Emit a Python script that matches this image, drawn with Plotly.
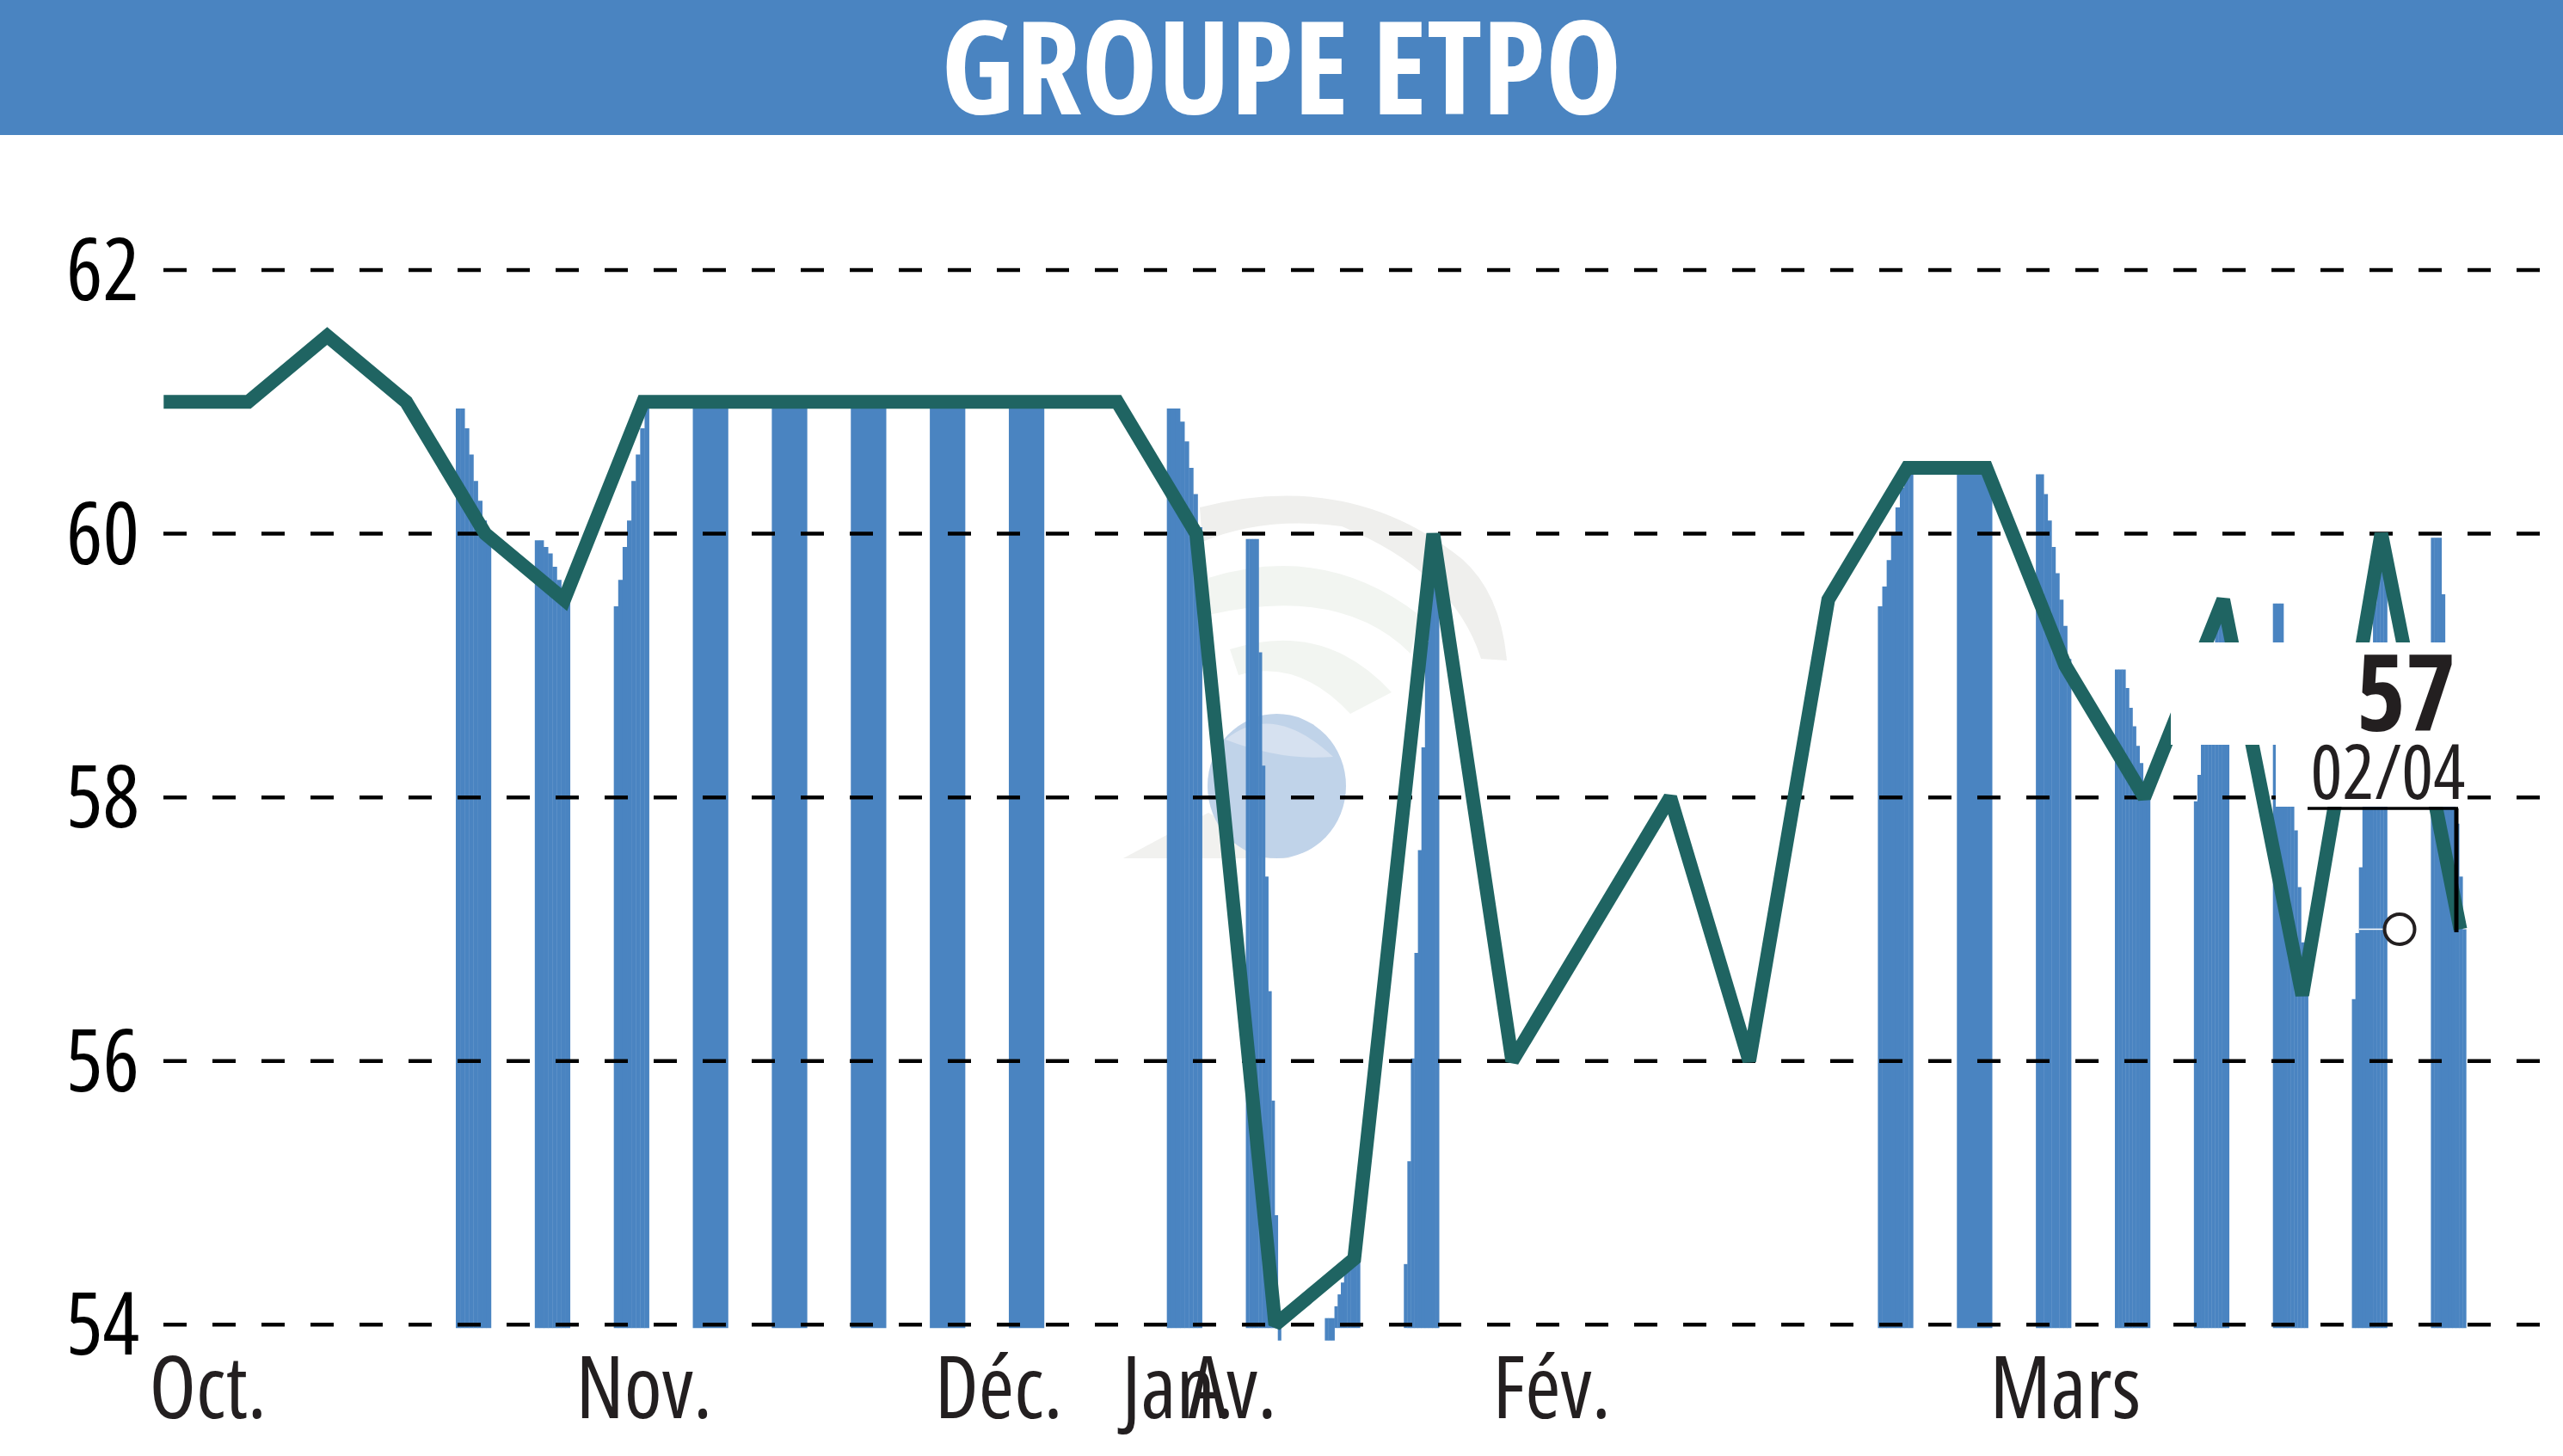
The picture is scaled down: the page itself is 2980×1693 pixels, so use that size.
import plotly.graph_objects as go

W, H = 2980, 1693
FONT = "Open Sans"
BLUE = "#4a84c1"
GREEN = "#1f6462"
INK = "#231f20"

# closing price, one point per period
line_idx = [-0.07, 1, 2, 3, 4, 5, 6, 7, 8, 9, 10, 11, 12, 13, 14, 15, 16, 17, 18, 19, 20, 21, 22, 23, 24, 25, 26, 27, 28, 29]
line_val = [61, 61, 61.5, 61, 60, 59.5, 61, 61, 61, 61, 61, 61, 61, 60, 54, 54.5, 60, 56, 57, 58, 56, 59.5, 60.5, 60.5, 59, 58, 59.5, 56.5, 60, 57]

y_ticks = [54, 56, 58, 60, 62]
x_tick_idx = [0.49, 6.01, 10.5, 12.77, 13.46, 17.5, 24.0]
x_tick_text = ["Oct.", "Nov.", "Déc.", "Jan.", "Av.", "Fév.", "Mars"]

# stripes under the line: which period, then the stepped top
stripe_idx = [4, 5, 6, 7, 8, 9, 10, 11, 13, 14, 15, 16, 22, 23, 24, 25, 26, 27, 28, 29]
stripe_tops = [
    [60.95, 60.95, 60.8, 60.6, 60.4, 60.25, 60.1, 60.0],
    [59.95, 59.95, 59.9, 59.85, 59.75, 59.65, 59.55, 59.5],
    [59.45, 59.65, 59.9, 60.1, 60.4, 60.6, 60.8, 60.95],
    [60.95],
    [60.95],
    [60.95],
    [60.95],
    [60.95],
    [60.95, 60.95, 60.95, 60.85, 60.7, 60.5, 60.3, 60.05],
    [59.96, 59.96, 59.96, 59.96, 59.1, 58.24, 57.4, 56.53, 55.7, 54.83, 54.0],
    [54.05, 54.05, 54.05, 54.14, 54.23, 54.32, 54.5, 54.5, 54.5, 54.5, 54.5],
    [54.46, 55.24, 56.02, 56.82, 57.6, 58.38, 59.18, 59.96, 59.96, 59.96],
    [59.45, 59.6, 59.8, 60.0, 60.2, 60.35, 60.45, 60.45],
    [60.45],
    [60.45, 60.45, 60.3, 60.1, 59.9, 59.7, 59.5, 59.3, 59.05],
    [58.97, 58.97, 58.97, 58.83, 58.68, 58.54, 58.39, 58.26, 58.0, 58.0],
    [57.97, 58.17, 58.4, 58.6, 58.85, 59.05, 59.3, 59.45, 59.45, 59.45],
    [59.47, 59.47, 59.47, 58.9, 58.4, 57.93, 57.75, 57.32, 56.9, 56.5],
    [56.47, 56.97, 57.47, 57.97, 58.47, 58.97, 59.47, 59.96, 59.96, 59.96],
    [59.97, 59.97, 59.97, 59.54, 59.1, 58.65, 58.2, 57.8, 57.4, 57.0],
]
stripe_base = 53.975
low_base = 53.88  # the stripes around the April low hang a bit under the axis

last_val = 57
last_date = "02/04"

# plot area in page pixels, axis ranges line up with them
L, R, T, B = 190, 2980, 157, 1571
x_rng = [-0.073, 30.3]
y_rng = [53.8, 63.024]


def xd(px):
    return x_rng[0] + (px - L) / (R - L) * (x_rng[1] - x_rng[0])


def yd(py):
    return y_rng[1] - (py - T) / (B - T) * (y_rng[1] - y_rng[0])


def path(*pts):
    # pts are (command, px, py) in page pixels
    out = ""
    for cmd, px, py in pts:
        out += f"{cmd}{xd(px):.4f},{yd(py):.4f} "
    return out + "Z"


bar_x, bar_y, bar_base, bar_w = [], [], [], []
for k, tops in zip(stripe_idx, stripe_tops):
    left = k - 0.37
    w = 0.445 / len(tops)
    for j, top in enumerate(tops):
        low = top <= 54.05 or (k == 15 and j < 3)
        base = low_base if low else stripe_base
        bar_x.append(left + (j + 0.5) * w)
        bar_y.append(top - base)
        bar_base.append(base)
        bar_w.append(w + 0.004)

fig = go.Figure()

fig.add_trace(go.Bar(x=bar_x, y=bar_y, base=bar_base, width=bar_w,
                     marker=dict(color=BLUE, line=dict(width=0))))

# gridlines sit above the stripes but under the price line
for t in y_ticks:
    fig.add_trace(go.Scatter(x=x_rng, y=[t, t], mode="lines",
                             line=dict(color="black", width=4.5, dash="27px,30px")))

fig.add_trace(go.Scatter(x=line_idx, y=line_val, mode="lines",
                         line=dict(color=GREEN, width=16)))

# thin white tick leading into the last value marker
fig.add_trace(go.Scatter(x=[xd(2743), xd(2775)], y=[last_val, last_val], mode="lines",
                         line=dict(color="white", width=1.5)))
fig.add_trace(go.Scatter(x=[xd(2790)], y=[last_val], mode="markers",
                         marker=dict(size=35, color="white", line=dict(color=INK, width=4))))

shapes = [
    # title band
    dict(type="rect", xref="paper", yref="paper", x0=-L / (R - L), x1=1, y0=1, y1=1 + T / (B - T),
         fillcolor=BLUE, line_width=0, layer="below"),
    # faded logo
    dict(type="path", layer="below", fillcolor="#efefed", line_width=0,
         path=path(("M", 1395, 590), ("Q", 1570, 545), ("", 1700, 650), ("Q", 1745, 690), ("", 1752, 768),
                   ("L", 1722, 766), ("Q", 1690, 665), ("", 1560, 612), ("Q", 1470, 600), ("", 1398, 630))),
    dict(type="path", layer="below", fillcolor="#f2f5f1", line_width=0,
         path=path(("M", 1405, 672), ("Q", 1540, 630), ("", 1650, 715), ("L", 1640, 760),
                   ("Q", 1560, 680), ("", 1405, 715))),
    dict(type="path", layer="below", fillcolor="#f2f5f1", line_width=0,
         path=path(("M", 1430, 755), ("Q", 1540, 720), ("", 1618, 805), ("L", 1570, 830),
                   ("Q", 1510, 765), ("", 1440, 785))),
    dict(type="path", layer="below", fillcolor="#f1f1ef", line_width=0,
         path=path(("M", 1306, 998), ("L", 1405, 945), ("L", 1500, 998))),
    dict(type="circle", layer="below", fillcolor="#c0d3e9", line_width=0,
         x0=xd(1404), x1=xd(1565), y0=yd(998), y1=yd(830)),
    dict(type="path", layer="below", fillcolor="#d6e1f0", line_width=0,
         path=path(("M", 1425, 860), ("Q", 1480, 815), ("", 1550, 880), ("Q", 1490, 885), ("", 1425, 860))),
    # white box behind the last value label
    dict(type="rect", layer="above", fillcolor="white", line_width=0,
         x0=xd(2524), x1=xd(2863), y0=yd(866), y1=yd(747)),
    dict(type="rect", layer="above", fillcolor="white", line_width=0,
         x0=xd(2646), x1=xd(2863), y0=yd(938), y1=yd(866)),
    # bracket from the date down to the last point
    dict(type="line", layer="above", line=dict(color="black", width=3.5),
         x0=xd(2683), x1=xd(2858), y0=yd(940), y1=yd(940)),
    dict(type="line", layer="above", line=dict(color="black", width=5),
         x0=xd(2856), x1=xd(2856), y0=yd(940), y1=yd(1084)),
]

fig.update_layout(
    width=W, height=H,
    margin=dict(l=L, r=W - R, t=T, b=H - B),
    paper_bgcolor="white", plot_bgcolor="rgba(0,0,0,0)",
    showlegend=False, barmode="overlay",
    shapes=shapes,
    title=dict(text="<b>GROUPE ETPO</b>", x=(1490 - L) / (R - L), xanchor="center", xref="paper",
               y=1 - 80 / H, yanchor="middle",
               font=dict(family=FONT, size=150, color="white")),
    font=dict(family=FONT, color=INK),
    annotations=[
        dict(text=f"<b>{last_val}</b>", x=xd(2797), y=yd(802), showarrow=False,
             font=dict(family=FONT, size=123, color=INK)),
        dict(text=last_date, x=xd(2776), y=yd(895), showarrow=False,
             font=dict(family=FONT, size=87, color=INK)),
    ],
    xaxis=dict(range=x_rng, tickmode="array", tickvals=x_tick_idx, ticktext=x_tick_text,
               showgrid=False, zeroline=False, showline=False, ticks="",
               ticklabelstandoff=-23, tickangle=0,
               tickfont=dict(family=FONT, size=100, color=INK)),
    yaxis=dict(range=y_rng, tickmode="array", tickvals=y_ticks,
               showgrid=False, zeroline=False, showline=False, ticks="",
               ticklabelstandoff=27,
               tickfont=dict(family=FONT, size=100, color="black")),
)

# page margin off, and the narrow cut of the font for all texts
fig.write_html("out.html", config={"displayModeBar": False},
               post_script="document.body.style.margin='0';"
                           "document.querySelectorAll('text').forEach(t=>t.style.fontStretch='extra-condensed');")
